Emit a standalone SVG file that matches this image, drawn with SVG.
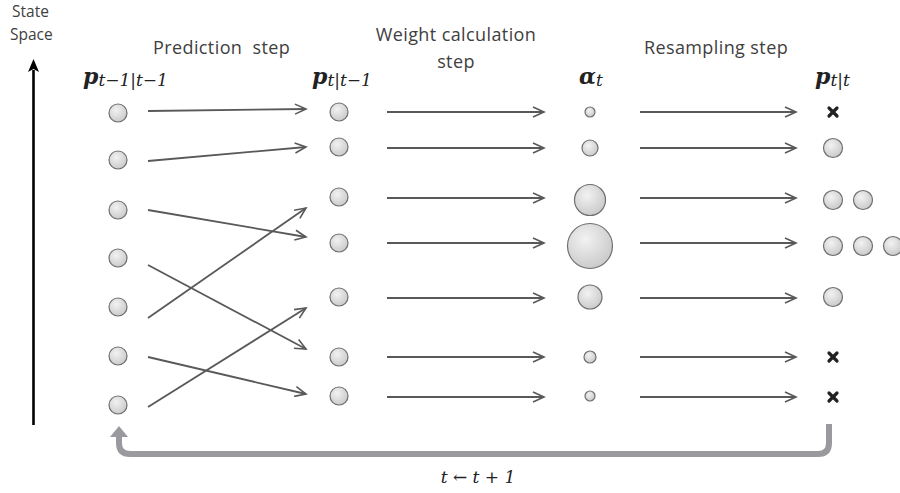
<svg xmlns="http://www.w3.org/2000/svg" width="900" height="493" viewBox="0 0 900 493">
<defs>
<radialGradient id="g" cx="0.4" cy="0.35" r="0.7">
<stop offset="0" stop-color="#f2f2f2"/>
<stop offset="1" stop-color="#c8c8c8"/>
</radialGradient>
<marker id="ah" markerWidth="14" markerHeight="12" refX="12" refY="6" orient="auto" markerUnits="userSpaceOnUse">
<path d="M1,1 L12,6 L1,11" fill="none" stroke="#595959" stroke-width="1.6"/>
</marker>
</defs>
<style>
.lbl{font-family:"Open Sans","Liberation Sans",Arial,sans-serif;font-size:18px;letter-spacing:0.4px;fill:#404040;white-space:pre}
.m{font-family:"DejaVu Serif","Liberation Serif",serif;font-style:italic;fill:#222}
.p{font-family:"DejaVu Serif","Liberation Serif",serif;font-style:italic;font-weight:bold;font-size:22px;fill:#222}
.s{font-size:17px;font-weight:normal}
circle{fill:url(#g);stroke:#6f6f6f;stroke-width:1.2}
.c line{stroke:#595959;stroke-width:1.8;marker-end:url(#ah)}
.x line{stroke:#222;stroke-width:3.2;stroke-linecap:round}
</style>
<rect width="900" height="493" fill="#fff"/>
<g id="axis">
<text class="lbl" x="12" y="17" style="font-size:15.5px;letter-spacing:0">State</text>
<text class="lbl" x="10" y="40" style="font-size:15.5px;letter-spacing:0">Space</text>
<line x1="33.5" y1="425" x2="33.5" y2="70" stroke="#000" stroke-width="2.6"/>
<path d="M33.5,59 L39,72 L33.5,69 L28,72 Z" fill="#000"/>
</g>
<g id="titles">
<text class="lbl" x="153" y="54">Prediction  step</text>
<text class="lbl" x="456" y="41" text-anchor="middle">Weight calculation</text>
<text class="lbl" x="456" y="68" text-anchor="middle">step</text>
<text class="lbl" x="716" y="54" text-anchor="middle">Resampling step</text>
</g>
<g id="labels">
<text class="p" x="83" y="84">p<tspan class="s" dy="2">t−1|t−1</tspan></text>
<text class="p" x="312" y="84">p<tspan class="s" dy="2">t|t−1</tspan></text>
<text class="p" x="579" y="84">α<tspan class="s" dy="2">t</tspan></text>
<text class="p" x="815" y="84">p<tspan class="s" dy="2">t|t</tspan></text>
</g>
<g id="col1">
<circle cx="118" cy="113" r="9"/>
<circle cx="118" cy="160" r="9"/>
<circle cx="118" cy="210" r="9"/>
<circle cx="118" cy="258" r="9"/>
<circle cx="118" cy="307" r="9"/>
<circle cx="118" cy="356" r="9"/>
<circle cx="118" cy="405" r="9"/>
</g>
<g id="col2">
<circle cx="339" cy="112" r="9"/>
<circle cx="339" cy="147" r="9"/>
<circle cx="339" cy="197" r="9"/>
<circle cx="339" cy="243" r="9"/>
<circle cx="339" cy="297" r="9"/>
<circle cx="339" cy="357" r="9"/>
<circle cx="339" cy="396" r="9"/>
</g>
<g id="col3">
<circle cx="590" cy="112" r="5"/>
<circle cx="590" cy="148" r="8"/>
<circle cx="590" cy="200" r="15.5"/>
<circle cx="590" cy="246" r="22.5"/>
<circle cx="590" cy="297" r="12"/>
<circle cx="590" cy="357" r="6"/>
<circle cx="590" cy="396" r="5"/>
</g>
<g id="col4">
<g class="x"><line x1="829" y1="108" x2="837" y2="116"/><line x1="837" y1="108" x2="829" y2="116"/></g>
<circle cx="833" cy="148" r="9.5"/>
<circle cx="833" cy="200" r="9.5"/>
<circle cx="863" cy="200" r="9.5"/>
<circle cx="833" cy="246" r="9.5"/>
<circle cx="863" cy="246" r="9.5"/>
<circle cx="893" cy="246" r="9.5"/>
<circle cx="833" cy="297" r="9.5"/>
<g class="x"><line x1="829" y1="353" x2="837" y2="361"/><line x1="837" y1="353" x2="829" y2="361"/></g>
<g class="x"><line x1="829" y1="393" x2="837" y2="401"/><line x1="837" y1="393" x2="829" y2="401"/></g>
</g>
<g id="connectors" class="c">
<line x1="148" y1="111" x2="306" y2="109"/>
<line x1="148" y1="161" x2="306" y2="147"/>
<line x1="148" y1="210" x2="306" y2="237"/>
<line x1="148" y1="265" x2="306" y2="349"/>
<line x1="148" y1="318" x2="306" y2="208"/>
<line x1="148" y1="357" x2="306" y2="394"/>
<line x1="148" y1="407" x2="306" y2="308"/>
<line x1="387" y1="112" x2="544" y2="112"/>
<line x1="387" y1="148" x2="544" y2="148"/>
<line x1="387" y1="198" x2="544" y2="198"/>
<line x1="387" y1="243" x2="544" y2="243"/>
<line x1="387" y1="298" x2="544" y2="298"/>
<line x1="387" y1="357" x2="544" y2="357"/>
<line x1="387" y1="397" x2="544" y2="397"/>
<line x1="640" y1="112" x2="796" y2="112"/>
<line x1="640" y1="148" x2="796" y2="148"/>
<line x1="640" y1="198" x2="796" y2="198"/>
<line x1="640" y1="243" x2="796" y2="243"/>
<line x1="640" y1="298" x2="796" y2="298"/>
<line x1="640" y1="357" x2="796" y2="357"/>
<line x1="640" y1="397" x2="796" y2="397"/>
</g>
<g id="feedback">
<path d="M829,424 L829,443 Q829,454 818,454 L130,454 Q119,454 119,443 L119,436" fill="none" stroke="#9a9a9e" stroke-width="6"/>
<path d="M110,437 L119,426 L128,437 Z" fill="#9a9a9e"/>
<text class="m" x="478" y="483" text-anchor="middle" font-size="17">t ← t + 1</text>
</g>
</svg>
